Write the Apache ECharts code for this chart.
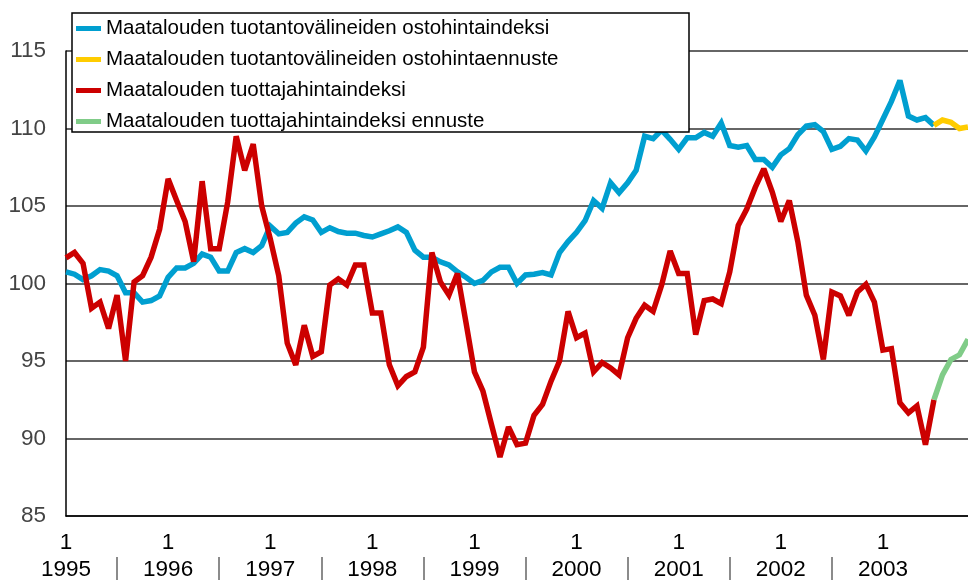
<!DOCTYPE html>
<html>
<head>
<meta charset="utf-8">
<script src="https://cdn.jsdelivr.net/npm/echarts@6/dist/echarts.min.js"></script>
<style>
html,body{margin:0;padding:0;background:#fff;}
#chart{width:968px;height:583px;}
</style>
</head>
<body>
<div id="chart"></div>
<script>
// Tick labels (years; "1" = January)
const years = [1995, 1996, 1997, 1998, 1999, 2000, 2001, 2002, 2003];
const monthCount = 107; // Jan 1995 .. Nov 2003

// Series names
const names = [
  'Maatalouden tuotantovälineiden ostohintaindeksi',
  'Maatalouden tuotantovälineiden ostohintaennuste',
  'Maatalouden tuottajahintaindeksi',
  'Maatalouden tuottajahintaindeksi ennuste'
];

// Monthly values from Jan 1995 (index 0) to Jul 2003 (index 102)
const buyIndex = [
  100.75, 100.6, 100.25, 100.5, 100.9, 100.8, 100.5, 99.4, 99.4, 98.8,
  98.9, 99.2, 100.4, 101.0, 101.0, 101.3, 101.9, 101.7, 100.8, 100.8,
  102.0, 102.25, 102.0, 102.45, 103.7, 103.2, 103.3, 103.9, 104.3, 104.1,
  103.3, 103.6, 103.35, 103.25, 103.25, 103.1, 103.0, 103.2, 103.4, 103.65,
  103.3, 102.15, 101.7, 101.7, 101.4, 101.2, 100.75, 100.4, 100.0, 100.2,
  100.75, 101.05, 101.05, 100.0, 100.55, 100.6, 100.7, 100.55, 102.0, 102.7,
  103.3, 104.05, 105.35, 104.85, 106.5, 105.85, 106.5, 107.3, 109.5, 109.35,
  109.9, 109.3, 108.65, 109.4, 109.4, 109.75, 109.5, 110.35, 108.9, 108.8,
  108.9, 108.0, 108.0, 107.5, 108.3, 108.7, 109.6, 110.15, 110.25, 109.8,
  108.65, 108.85, 109.35, 109.25, 108.55, 109.45, 110.6, 111.75, 113.1, 110.8,
  110.55, 110.7, 110.2
];
// Forecast, index 102 .. 106
const buyForecast = [110.2, 110.55, 110.4, 110.0, 110.1];

const prodIndex = [
  101.65, 102.0, 101.3, 98.4, 98.8, 97.1, 99.25, 95.0, 100.1, 100.5,
  101.7, 103.5, 106.75, 105.35, 104.0, 101.4, 106.6, 102.25, 102.25, 105.25,
  109.5, 107.3, 109.0, 105.0, 102.9, 100.5, 96.15, 94.75, 97.3, 95.3,
  95.6, 99.9, 100.3, 99.9, 101.2, 101.2, 98.1, 98.1, 94.75, 93.4,
  94.0, 94.3, 95.9, 102.0, 100.1, 99.25, 100.65, 97.5, 94.3, 93.05,
  90.9, 88.8, 90.75, 89.6, 89.7, 91.5, 92.2, 93.7, 95.0, 98.2,
  96.5, 96.8, 94.3, 94.9, 94.55, 94.1, 96.5, 97.75, 98.6, 98.2,
  99.9, 102.1, 100.65, 100.65, 96.7, 98.9, 99.0, 98.7, 100.75, 103.75,
  104.8, 106.2, 107.4, 105.9, 104.0, 105.35, 102.7, 99.25, 97.95, 95.1,
  99.45, 99.2, 97.95, 99.45, 99.95, 98.8, 95.7, 95.8, 92.3, 91.65,
  92.1, 89.6, 92.5
];
const prodForecast = [92.5, 94.1, 95.1, 95.4, 96.4];

const yMin = 85, yMax = 115, yStep = 5;

// Build category axis (months)
const categories = [];
years.forEach(y => { for (let m = 1; m <= 12; m++) categories.push(m + '/' + y); });
categories.length = monthCount;

function pad(arr, start) {
  const out = new Array(monthCount).fill(null);
  arr.forEach((v, i) => { out[start + i] = v; });
  return out;
}
const forecastStart = buyIndex.length - 1;

const colors = ['#009FD0', '#FFCC00', '#CC0000', '#80CC88'];
const font = "'Liberation Sans', Arial, sans-serif";

function lineSeries(idx, data, z) {
  return {
    name: names[idx], type: 'line', data: data, showSymbol: false, z: z,
    lineStyle: {width: 5.5, color: colors[idx], join: 'miter', miterLimit: 2.5, cap: 'butt'},
    itemStyle: {color: colors[idx]}
  };
}

const chart = echarts.init(document.getElementById('chart'), null, {renderer: 'canvas'});
chart.setOption({
  animation: false,
  grid: {left: 66, right: 0, top: 51, bottom: 64, containLabel: false},
  xAxis: [{
    type: 'category',
    data: categories,
    boundaryGap: false,
    axisLine: {show: true, lineStyle: {color: '#000', width: 1.5}},
    axisTick: {show: false},
    axisLabel: {
      interval: (i) => i % 12 === 0,
      formatter: (v, i) => '1\n' + v.split('/')[1],
      fontFamily: font, fontSize: 22.5, color: '#000', lineHeight: 27, margin: 13
    },
    splitLine: {show: false}
  }, {
    type: 'category',
    data: categories,
    boundaryGap: false,
    position: 'bottom',
    offset: 41,
    axisLine: {show: false},
    axisLabel: {show: false},
    axisTick: {
      show: true,
      interval: (i) => i % 12 === 6 && i < (years.length - 1) * 12,
      length: 23,
      lineStyle: {color: '#666', width: 1.5}
    },
    splitLine: {show: false}
  }],
  yAxis: {
    type: 'value',
    min: yMin, max: yMax, interval: yStep,
    axisLine: {show: true, lineStyle: {color: '#000', width: 1.5}},
    axisTick: {show: false},
    axisLabel: {fontFamily: font, fontSize: 22.5, color: '#444', margin: 20},
    splitLine: {show: true, lineStyle: {color: '#333', width: 1.5}}
  },
  legend: {
    orient: 'vertical',
    left: 76, top: 18,
    padding: 0,
    itemGap: 10,
    itemWidth: 25, itemHeight: 5,
    icon: 'rect',
    z: 20,
    textStyle: {fontFamily: font, fontSize: 20.5, color: '#000', lineHeight: 20},
    data: names
  },
  graphic: [{
    type: 'rect',
    z: 15,
    shape: {x: 72, y: 13, width: 617, height: 119},
    style: {fill: '#fff', stroke: '#000', lineWidth: 1.5}
  }],
  series: [
    lineSeries(0, pad(buyIndex, 0), 2),
    lineSeries(1, pad(buyForecast, forecastStart), 2),
    lineSeries(2, pad(prodIndex, 0), 3),
    lineSeries(3, pad(prodForecast, forecastStart), 3)
  ]
});
</script>
</body>
</html>
